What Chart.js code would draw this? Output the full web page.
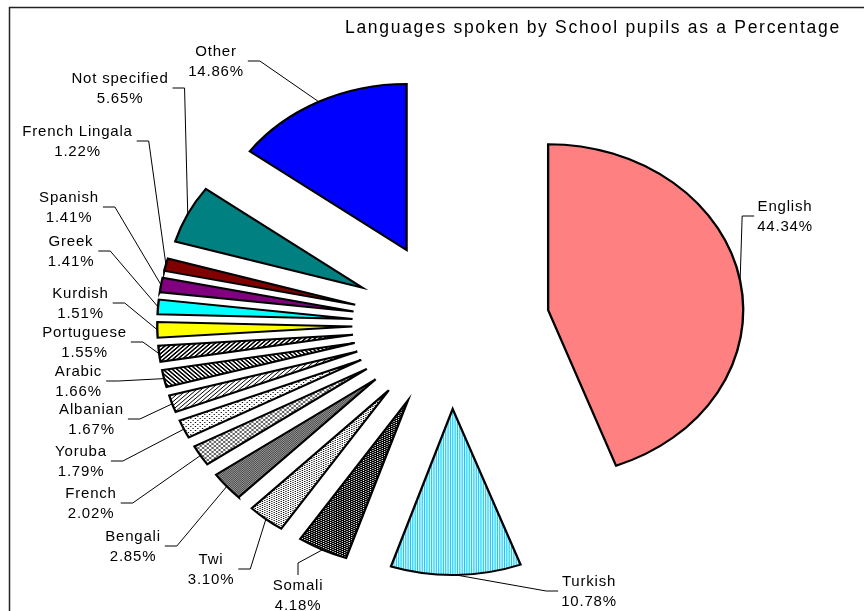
<!DOCTYPE html>
<html>
<head>
<meta charset="utf-8">
<script src="https://cdn.jsdelivr.net/npm/chart.js@4.4.0/dist/chart.umd.min.js"></script>
<style>
  html, body { margin: 0; padding: 0; background: #ffffff; }
  #wrap { width: 864px; height: 611px; position: relative; }
  canvas { display: block; }
</style>
</head>
<body>
<div id="wrap"><canvas id="chart" width="864" height="611"></canvas></div>
<script>
// ---- data ----
const languages = ['English', 'Turkish', 'Somali', 'Twi', 'Bengali', 'French', 'Yoruba',
  'Albanian', 'Arabic', 'Portuguese', 'Kurdish', 'Greek', 'Spanish', 'French Lingala',
  'Not specified', 'Other'];
const percentages = [44.34, 10.78, 4.18, 3.10, 2.85, 2.02, 1.79, 1.67, 1.66, 1.55, 1.51,
  1.41, 1.41, 1.22, 5.65, 14.86];
const chartTitle = 'Languages spoken by School pupils as a Percentage';

// ---- layout ----
// label block: [centre x, first-line baseline, side of the text the leader joins]
const labelLayout = [
  [785, 211, 'L'], [589, 586, 'L'], [298, 590, 'T'], [211, 564, 'R'], [133, 541, 'R'],
  [91, 498, 'R'], [81, 456, 'R'], [91.5, 414, 'R'], [78.5, 376, 'R'], [84.5, 337, 'R'],
  [80.5, 298, 'R'], [71, 246, 'R'], [69, 202, 'R'], [77.5, 136, 'R'], [120, 83, 'R'],
  [216, 56, 'R']
];
const PIE_RADIUS = 166;     // vertical radius in px
const STRETCH_X = 1.175;    // horizontal stretch of the pie
const EXPLODE = 84;         // distance each slice is pulled out
const LINE_GAP = 19.5;      // spacing between the two lines of a label

// ---- fills ----
function tile(w, h, bg, fg, test) {
  const c = document.createElement('canvas');
  c.width = w; c.height = h;
  const g = c.getContext('2d');
  g.fillStyle = bg; g.fillRect(0, 0, w, h);
  g.fillStyle = fg;
  for (let y = 0; y < h; y++) for (let x = 0; x < w; x++) if (test(x, y)) g.fillRect(x, y, 1, 1);
  return g.createPattern(c, 'repeat');
}
const pctx = document.getElementById('chart').getContext('2d');
const fills = [
  '#FF8080',                                                           // English
  tile(2, 1, '#ffffff', '#00CCFF', (x) => x === 0),                      // Turkish
  tile(4, 2, '#000000', '#ffffff', (x, y) => (y === 0 && x === 0) || (y === 1 && x === 2)), // Somali
  tile(4, 2, '#ffffff', '#000000', (x, y) => (y === 0 && x === 0) || (y === 1 && x === 2)), // Twi
  tile(2, 2, '#404040', '#a0a0a0', (x, y) => (x + y) % 2 === 0),        // Bengali
  tile(4, 4, '#ffffff', '#666666', (x, y) => x === y || x + y === 3),   // French
  tile(4, 4, '#ffffff', '#000000', (x, y) => (x + y) % 4 === 3 && y % 2 === 0), // Yoruba
  tile(4, 4, '#ffffff', '#000000', (x, y) => (x + y) % 4 === 3),        // Albanian
  tile(4, 4, '#ffffff', '#000000', (x, y) => ((x - y + 4) % 4) < 2),    // Arabic
  tile(4, 4, '#ffffff', '#000000', (x, y) => ((x + y) % 4) < 2),        // Portuguese
  '#FFFF00',                                                           // Kurdish
  '#00FFFF',                                                           // Greek
  '#800080',                                                           // Spanish
  '#800000',                                                           // French Lingala
  '#008080',                                                           // Not specified
  '#0000FF'                                                            // Other
];

function pieCentre(chart) {
  const a = chart.chartArea;
  return { cx: (a.left + a.right) / 2, cy: (a.top + a.bottom) / 2 };
}

// pulls every slice out along its bisector and stretches the pie sideways
const explodePlugin = {
  id: 'explodeSlices',
  afterUpdate(chart) {
    const { cx, cy } = pieCentre(chart);
    chart.getDatasetMeta(0).data.forEach(arc => {
      const mid = (arc.startAngle + arc.endAngle) / 2;
      arc.x = cx + Math.cos(mid) * EXPLODE;
      arc.y = cy + Math.sin(mid) * EXPLODE;
    });
  },
  beforeDatasetsDraw(chart) {
    const ctx = chart.ctx;
    const { cx, cy } = pieCentre(chart);
    ctx.save();
    ctx.translate(cx, cy);
    ctx.scale(STRETCH_X, 1);
    ctx.translate(-cx, -cy);
  },
  afterDatasetsDraw(chart) {
    chart.ctx.restore();
  }
};

// frame, title, value labels and leader lines
const labelPlugin = {
  id: 'sliceLabels',
  afterDraw(chart) {
    const ctx = chart.ctx;
    const { cx } = pieCentre(chart);
    const meta = chart.getDatasetMeta(0);
    ctx.save();

    // frame
    ctx.strokeStyle = '#222222';
    ctx.lineWidth = 1.5;
    ctx.strokeRect(9.5, 7.5, 900, 700);

    // title
    ctx.fillStyle = '#000000';
    ctx.font = '17.5px "Liberation Sans", Arial, sans-serif';
    ctx.letterSpacing = '1.7px';
    ctx.textAlign = 'left';
    ctx.textBaseline = 'alphabetic';
    ctx.fillText(chartTitle, 345, 33.3);

    ctx.font = '15px "Liberation Sans", Arial, sans-serif';
    ctx.letterSpacing = '0.8px';
    ctx.lineWidth = 1;
    ctx.strokeStyle = '#000000';

    meta.data.forEach((arc, i) => {
      const [lx, ly, side] = labelLayout[i];
      const line1 = languages[i];
      const line2 = percentages[i].toFixed(2) + '%';
      ctx.textAlign = 'center';
      ctx.fillText(line1, lx, ly);
      ctx.fillText(line2, lx, ly + LINE_GAP);
      const w = Math.max(ctx.measureText(line1).width, ctx.measureText(line2).width);

      // outer edge of the slice at its bisector
      const mid = (arc.startAngle + arc.endAngle) / 2;
      const ex = cx + STRETCH_X * (arc.x - cx + Math.cos(mid) * arc.outerRadius);
      const ey = arc.y + Math.sin(mid) * arc.outerRadius;

      ctx.beginPath();
      const sy = ly + 5;
      if (side === 'R') {
        const r = lx + w / 2;
        ctx.moveTo(r + 4, sy); ctx.lineTo(r + 16, sy);
      } else if (side === 'L') {
        const l = lx - w / 2;
        ctx.moveTo(l - 3, sy); ctx.lineTo(l - 15, sy);
      } else {
        ctx.moveTo(lx, ly - 15); ctx.lineTo(lx, ly - 27);
      }
      ctx.lineTo(ex, ey);
      ctx.stroke();
    });
    ctx.restore();
  }
};

new Chart(pctx, {
  type: 'pie',
  data: {
    labels: languages,
    datasets: [{
      data: percentages,
      backgroundColor: fills,
      borderColor: '#000000',
      borderWidth: 2,
      borderJoinStyle: 'miter',
      radius: PIE_RADIUS,
      clip: false
    }]
  },
  options: {
    responsive: false,
    animation: false,
    events: [],
    layout: { padding: { left: 38, top: 39, right: 0, bottom: 0 } },
    plugins: {
      legend: { display: false },
      title: { display: false },
      tooltip: { enabled: false }
    }
  },
  plugins: [explodePlugin, labelPlugin]
});
</script>
</body>
</html>
